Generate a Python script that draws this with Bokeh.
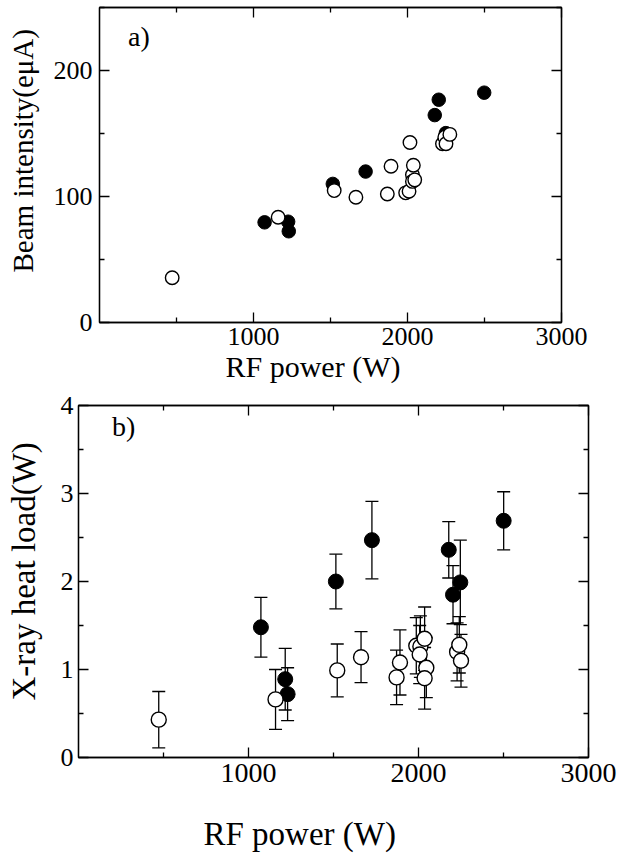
from bokeh.plotting import figure
from bokeh.models import (Range1d, FixedTicker, LinearAxis, ColumnDataSource,
                          Whisker, TeeHead, Label, Title, CustomJSTickFormatter)
from bokeh.embed import file_html
from bokeh.resources import INLINE

FONT = "Liberation Serif"

# ---------------- data ----------------
# panel a) beam intensity vs RF power
a_filled_power = [1072, 1225, 1229, 1515, 1728, 2177, 2203, 2249, 2498]
a_filled_beam = [79.5, 80.0, 72.4, 110.0, 119.8, 164.6, 176.8, 150.3, 182.4]
a_open_power = [472, 1160, 1524, 1665, 1869, 1893, 1988, 2010, 2016, 2032,
                2032, 2038, 2047, 2227, 2242, 2250, 2275]
a_open_beam = [35.5, 83.5, 104.7, 99.4, 102.0, 124.0, 102.9, 104.2, 142.9, 117.2,
               112.0, 124.8, 113.2, 141.9, 147.1, 141.9, 149.3]

# panel b) X-ray heat load vs RF power (with error bars)
b_filled_power = [1073, 1216, 1230, 1514, 1726, 2178, 2203, 2246, 2501]
b_filled_heat = [1.48, 0.89, 0.72, 2.00, 2.47, 2.36, 1.85, 1.99, 2.69]
b_filled_err = [0.34, 0.35, 0.30, 0.31, 0.44, 0.32, 0.33, 0.48, 0.33]
b_open_power = [472, 1159, 1522, 1662, 1871, 1891, 1987, 2011, 2007, 2036,
                2046, 2036, 2227, 2240, 2250]
b_open_heat = [0.43, 0.66, 0.99, 1.14, 0.91, 1.08, 1.27, 1.26, 1.17, 1.35,
               1.02, 0.90, 1.20, 1.28, 1.10]
b_open_err = [0.32, 0.34, 0.30, 0.29, 0.31, 0.37, 0.32, 0.35, 0.33, 0.36,
              0.34, 0.35, 0.33, 0.32, 0.30]

x_ticks = [1000, 2000, 3000]
x_minor = [500, 1500, 2500]
a_y_ticks = [0, 100, 200]
a_y_minor = [50, 150, 250]
b_y_ticks = [0, 1, 2, 3, 4]
b_y_minor = [0.5, 1.5, 2.5, 3.5]

x_title = "RF power (W)"
a_y_title = "Beam intensity(eμA)"
b_y_title = "X-ray heat load(W)"

LW = 1.3
INK = "black"


def style_axis(ax, ticks, minor, font_size=None, standoff=4):
    ax.ticker = FixedTicker(ticks=ticks, minor_ticks=minor)
    ax.axis_line_color = INK
    ax.axis_line_width = LW
    ax.major_tick_line_color = INK
    ax.major_tick_line_width = LW
    ax.minor_tick_line_color = INK
    ax.minor_tick_line_width = LW
    ax.major_tick_in = 10
    ax.major_tick_out = 0
    ax.minor_tick_in = 5
    ax.minor_tick_out = 0
    ax.major_label_text_font = FONT
    ax.major_label_text_color = INK
    if font_size is None:
        ax.formatter = CustomJSTickFormatter(code="return ''")
        ax.major_label_text_font_size = "1px"
        ax.major_label_standoff = 0
    else:
        ax.major_label_text_font_size = font_size
        ax.major_label_standoff = standoff


def spacer_axis(p, place, ticks, gap):
    # blank axis whose (white, outward) ticks only reserve a gap
    # between the tick labels and the axis title
    ax = LinearAxis()
    style_axis(ax, ticks, [])
    ax.axis_line_color = None
    ax.major_tick_in = 0
    ax.major_tick_out = gap
    ax.major_tick_line_color = "white"
    ax.minor_tick_line_color = None
    p.add_layout(ax, place)


def make_panel(width, height, ylim, borders):
    p = figure(width=width, height=height,
               x_range=Range1d(0, 3000), y_range=Range1d(*ylim),
               output_backend="svg", toolbar_location=None,
               min_border_left=borders[0], min_border_right=borders[1],
               min_border_top=borders[2], min_border_bottom=borders[3])
    p.grid.visible = False
    p.outline_line_color = INK
    p.outline_line_width = LW
    p.background_fill_color = "white"
    p.border_fill_color = "white"
    return p


def side_title(p, place, text, size, offset):
    p.add_layout(Title(text=text, align="left", offset=offset,
                       standoff=0, text_font=FONT,
                       text_font_size=size, text_font_style="normal",
                       text_color=INK), place)


# ---------------- panel a ----------------
pa = make_panel(624, 389, (0, 250), (99, 63, 7, 67))
style_axis(pa.xaxis[0], x_ticks, x_minor, "26px", 5)
style_axis(pa.yaxis[0], a_y_ticks, a_y_minor, "26px", 7)
top_a = LinearAxis()
style_axis(top_a, x_ticks, x_minor)
pa.add_layout(top_a, "above")
right_a = LinearAxis()
style_axis(right_a, a_y_ticks, a_y_minor)
pa.add_layout(right_a, "right")
spacer_axis(pa, "left", a_y_ticks, 12)
side_title(pa, "below", x_title, "30px", 126)
side_title(pa, "left", a_y_title, "29px", 50)

pa.scatter(a_filled_power, a_filled_beam, size=13.5, marker="circle",
           fill_color=INK, line_color=INK, line_width=1)
pa.scatter(a_open_power, a_open_beam, size=13.5, marker="circle",
           fill_color="white", line_color=INK, line_width=1.4)
pa.add_layout(Label(x=185, y=227, text="a)", text_font=FONT,
                    text_font_size="28px", text_color=INK,
                    text_align="left", text_baseline="alphabetic"))

# ---------------- panel b ----------------
pb = make_panel(624, 470, (0, 4), (78, 36, 16, 102))
style_axis(pb.xaxis[0], x_ticks, x_minor, "28px", 6)
style_axis(pb.yaxis[0], b_y_ticks, b_y_minor, "26px", 5)
top_b = LinearAxis()
style_axis(top_b, x_ticks, x_minor)
pb.add_layout(top_b, "above")
right_b = LinearAxis()
style_axis(right_b, b_y_ticks, b_y_minor)
pb.add_layout(right_b, "right")
spacer_axis(pb, "below", x_ticks, 29)
spacer_axis(pb, "left", b_y_ticks, 16)
side_title(pb, "below", x_title, "33px", 125)
side_title(pb, "left", b_y_title, "33px", 57)


def add_errors(p, xs, ys, errs):
    src = ColumnDataSource(dict(
        x=xs,
        upper=[y + e for y, e in zip(ys, errs)],
        lower=[y - e for y, e in zip(ys, errs)],
    ))
    w = Whisker(source=src, base="x", upper="upper", lower="lower",
                dimension="height", line_color=INK, line_width=LW,
                upper_head=TeeHead(size=13, line_color=INK, line_width=LW),
                lower_head=TeeHead(size=13, line_color=INK, line_width=LW))
    p.add_layout(w)


add_errors(pb, b_filled_power, b_filled_heat, b_filled_err)
add_errors(pb, b_open_power, b_open_heat, b_open_err)
pb.scatter(b_filled_power, b_filled_heat, size=15, marker="circle",
           fill_color=INK, line_color=INK, line_width=1)
pb.scatter(b_open_power, b_open_heat, size=15, marker="circle",
           fill_color="white", line_color=INK, line_width=1.4)
pb.add_layout(Label(x=197, y=3.76, text="b)", text_font=FONT,
                    text_font_size="28px", text_color=INK,
                    text_align="left", text_baseline="alphabetic"))

open("out.html", "w").write(file_html([pa, pb], INLINE))
